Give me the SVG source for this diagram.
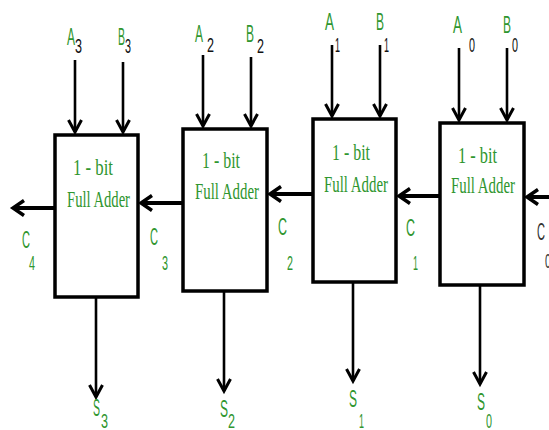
<svg xmlns="http://www.w3.org/2000/svg" width="549" height="430" viewBox="0 0 549 430">
<defs>
<marker id="ah" markerUnits="userSpaceOnUse" markerWidth="30" markerHeight="30" refX="0" refY="0" viewBox="-15 -15 30 30" orient="auto" overflow="visible">
<path d="M-12,-6.5 L0,0 L-12,6.5" fill="none" stroke="#000" stroke-width="3" stroke-linejoin="miter"/>
</marker>
<marker id="ahc" markerUnits="userSpaceOnUse" markerWidth="30" markerHeight="30" refX="0" refY="0" viewBox="-15 -15 30 30" orient="auto" overflow="visible">
<path d="M-11,-7.5 L0,0 L-11,7.5" fill="none" stroke="#000" stroke-width="3.5" stroke-linejoin="miter"/>
</marker>
</defs>
<style>
.box{fill:#fff;stroke:#000;stroke-width:3.5}
.in{stroke:#000;stroke-width:2.6;fill:none;marker-end:url(#ah)}
.cy{stroke:#000;stroke-width:4;fill:none;marker-end:url(#ahc)}
.bt{font-family:"Liberation Serif","DejaVu Serif",serif;font-size:24px;fill:#2f962f}
.lb{font-family:"Liberation Sans",Arial,sans-serif;font-size:24px;fill:#2f962f}
.sb{font-family:"Liberation Sans",Arial,sans-serif;font-size:20px;fill:#2f962f}
.sk{font-family:"Liberation Sans",Arial,sans-serif;font-size:20px;fill:#111}
</style>
<rect width="549" height="430" fill="#fff"/>
<g id="connectors">
<line class="in" x1="75" y1="60" x2="75" y2="132"/>
<line class="in" x1="123" y1="62" x2="123" y2="132"/>
<line class="in" x1="203" y1="55" x2="203" y2="126"/>
<line class="in" x1="251" y1="57" x2="251" y2="126"/>
<line class="in" x1="332" y1="45" x2="332" y2="116"/>
<line class="in" x1="380" y1="45" x2="380" y2="116"/>
<line class="in" x1="459" y1="48" x2="459" y2="120"/>
<line class="in" x1="507" y1="48" x2="507" y2="120"/>
<line class="in" x1="96" y1="298" x2="96" y2="397"/>
<line class="in" x1="224" y1="292" x2="224" y2="391"/>
<line class="in" x1="353" y1="283" x2="353" y2="381"/>
<line class="in" x1="480" y1="286" x2="480" y2="384"/>
<line class="cy" x1="54" y1="208" x2="13" y2="208"/>
<line class="cy" x1="182" y1="203" x2="141" y2="203"/>
<line class="cy" x1="312" y1="194" x2="270" y2="194"/>
<line class="cy" x1="439" y1="196" x2="399" y2="196"/>
<line class="cy" x1="552" y1="197" x2="527" y2="197"/>
</g>
<g id="fa3">
<rect class="box" x="55" y="135" width="83" height="162"/>
<text class="bt" x="73" y="175" textLength="40" lengthAdjust="spacingAndGlyphs">1 - bit</text>
<text class="bt" x="67" y="207" textLength="63" lengthAdjust="spacingAndGlyphs">Full Adder</text>
</g>
<g id="fa2">
<rect class="box" x="183" y="129" width="84" height="162"/>
<text class="bt" x="202" y="168" textLength="38" lengthAdjust="spacingAndGlyphs">1 - bit</text>
<text class="bt" x="195" y="199" textLength="64" lengthAdjust="spacingAndGlyphs">Full Adder</text>
</g>
<g id="fa1">
<rect class="box" x="313" y="119" width="83" height="163"/>
<text class="bt" x="332" y="160" textLength="38" lengthAdjust="spacingAndGlyphs">1 - bit</text>
<text class="bt" x="324" y="192" textLength="64" lengthAdjust="spacingAndGlyphs">Full Adder</text>
</g>
<g id="fa0">
<rect class="box" x="440" y="123" width="84" height="162"/>
<text class="bt" x="458" y="163" textLength="39" lengthAdjust="spacingAndGlyphs">1 - bit</text>
<text class="bt" x="451" y="193" textLength="64" lengthAdjust="spacingAndGlyphs">Full Adder</text>
</g>
<g id="labels">
<text class="lb" x="67" y="45" textLength="8" lengthAdjust="spacingAndGlyphs">A</text>
<text class="sk" x="75" y="53" textLength="7" lengthAdjust="spacingAndGlyphs">3</text>
<text class="lb" x="118" y="45" textLength="7" lengthAdjust="spacingAndGlyphs">B</text>
<text class="sk" x="125" y="53" textLength="6" lengthAdjust="spacingAndGlyphs">3</text>
<text class="lb" x="195" y="42" textLength="8" lengthAdjust="spacingAndGlyphs">A</text>
<text class="sk" x="207" y="52" textLength="7" lengthAdjust="spacingAndGlyphs">2</text>
<text class="lb" x="246" y="42" textLength="8" lengthAdjust="spacingAndGlyphs">B</text>
<text class="sk" x="257" y="53" textLength="7" lengthAdjust="spacingAndGlyphs">2</text>
<text class="lb" x="325" y="30" textLength="9" lengthAdjust="spacingAndGlyphs">A</text>
<text class="sk" x="335" y="52" textLength="5" lengthAdjust="spacingAndGlyphs">1</text>
<text class="lb" x="376" y="30" textLength="8" lengthAdjust="spacingAndGlyphs">B</text>
<text class="sk" x="384" y="52" textLength="5" lengthAdjust="spacingAndGlyphs">1</text>
<text class="lb" x="453" y="33" textLength="9" lengthAdjust="spacingAndGlyphs">A</text>
<text class="sk" x="469" y="52" textLength="6" lengthAdjust="spacingAndGlyphs">0</text>
<text class="lb" x="503" y="33" textLength="8" lengthAdjust="spacingAndGlyphs">B</text>
<text class="sk" x="512" y="52" textLength="6" lengthAdjust="spacingAndGlyphs">0</text>
<text class="lb" x="22" y="248" textLength="8" lengthAdjust="spacingAndGlyphs">C</text>
<text class="sb" x="29" y="270" textLength="6" lengthAdjust="spacingAndGlyphs">4</text>
<text class="lb" x="150" y="245" textLength="8" lengthAdjust="spacingAndGlyphs">C</text>
<text class="sb" x="162" y="270" textLength="6" lengthAdjust="spacingAndGlyphs">3</text>
<text class="lb" x="278" y="235" textLength="9" lengthAdjust="spacingAndGlyphs">C</text>
<text class="sb" x="287" y="270" textLength="6" lengthAdjust="spacingAndGlyphs">2</text>
<text class="lb" x="406" y="236" textLength="9" lengthAdjust="spacingAndGlyphs">C</text>
<text class="sb" x="413" y="270" textLength="5" lengthAdjust="spacingAndGlyphs">1</text>
<text class="lb" x="537" y="240" textLength="8" lengthAdjust="spacingAndGlyphs" style="fill:#333">C</text>
<text class="sk" x="545" y="268" textLength="6" lengthAdjust="spacingAndGlyphs" style="fill:#333">0</text>
<text class="lb" x="93" y="416" textLength="7" lengthAdjust="spacingAndGlyphs">S</text>
<text class="sb" x="101" y="428" textLength="7" lengthAdjust="spacingAndGlyphs">3</text>
<text class="lb" x="220" y="417" textLength="8" lengthAdjust="spacingAndGlyphs">S</text>
<text class="sb" x="228" y="428" textLength="7" lengthAdjust="spacingAndGlyphs">2</text>
<text class="lb" x="349" y="407" textLength="8" lengthAdjust="spacingAndGlyphs">S</text>
<text class="sb" x="359" y="428" textLength="5" lengthAdjust="spacingAndGlyphs">1</text>
<text class="lb" x="477" y="410" textLength="8" lengthAdjust="spacingAndGlyphs">S</text>
<text class="sb" x="486" y="428" textLength="6" lengthAdjust="spacingAndGlyphs">0</text>
</g>
</svg>
